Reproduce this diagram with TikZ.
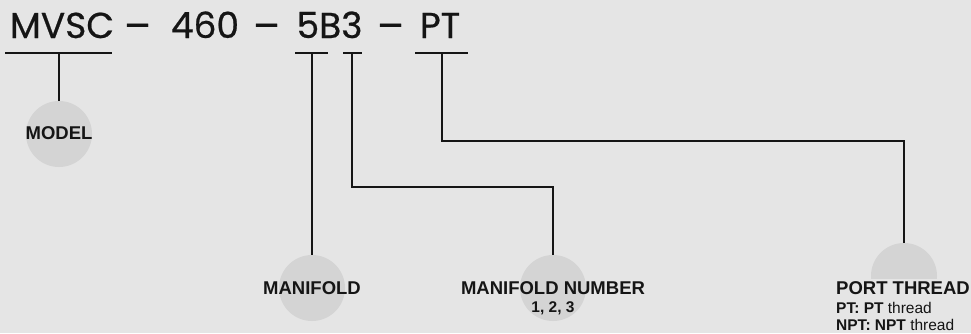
\documentclass[tikz,border=0pt]{standalone}
\usepackage{fontspec}
\setmainfont{Liberation Sans}
\newfontfamily\titlefont[FakeBold=0.6]{Poppins}
\definecolor{bg}{HTML}{E5E5E5}
\definecolor{disc}{HTML}{D4D4D4}
\definecolor{ink}{HTML}{151515}
\begin{document}
\begin{tikzpicture}[x=1pt,y=-1pt,
  title/.style={font=\titlefont\fontsize{36}{40}\selectfont, text=ink, inner sep=0pt, anchor=base},
  disc/.style={circle, fill=disc, minimum size=66pt, inner sep=0pt},
  lbl/.style={font=\bfseries\fontsize{18.5}{20}\selectfont, text=ink, inner sep=0pt},
  sub/.style={font=\fontsize{15.5}{17}\selectfont, text=ink, inner sep=0pt},
  link/.style={draw=ink, line width=2pt},
  bar/.style={draw=ink, line width=2.2pt}]
\fill[bg] (0,0) rectangle (971,333);
\useasboundingbox (0,0) rectangle (971,333);
% title
\node[title] (mvsc) at (62,38) {MVSC};
\node[title, font=\titlefont\fontsize{40}{44}\selectfont] (da) at (137.5,40) {–};
\node[title] (num) at (205,38) {460};
\node[title, font=\titlefont\fontsize{40}{44}\selectfont] (db) at (266.5,40) {–};
\node[title] (code) at (329.5,38) {5B3};
\node[title, font=\titlefont\fontsize{40}{44}\selectfont] (dc) at (390.5,40) {–};
\node[title] (pt) at (440,38) {PT};
% underline bars
\coordinate (u1a) at (5,53);   \coordinate (u1b) at (112,53);
\coordinate (u2a) at (295,53); \coordinate (u2b) at (328,53);
\coordinate (u3a) at (343,53); \coordinate (u3b) at (362,53);
\coordinate (u4a) at (415,53); \coordinate (u4b) at (468,53);
\draw[bar] (u1a) -- (u1b);
\draw[bar] (u2a) -- (u2b);
\draw[bar] (u3a) -- (u3b);
\draw[bar] (u4a) -- (u4b);
\coordinate (s1) at (59,53);
\coordinate (s2) at (312,53);
\coordinate (s3) at (352,53);
\coordinate (s4) at (442,53);
% discs
\node[disc] (model) at (59,134) {};
\node[disc] (manifold) at (312,288) {};
\node[disc] (mnum) at (553,288) {};
\node[disc] (port) at (904,276) {};
% connectors
\draw[link] (s1) -- (model.north);
\draw[link] (s2) -- (manifold.north);
\draw[link] (s3) |- (450,187) -| (mnum.north);
\draw[link] (s4) |- (700,141) -| (port.north);
% labels
\node[lbl] (tmodel) at (59,133) {MODEL};
\node[lbl] (tman) at (312,288) {MANIFOLD};
\node[lbl] (tmnum) at (553,288) {MANIFOLD NUMBER};
\node[sub, font=\bfseries\fontsize{15.5}{17}\selectfont] (tmnum2) at (553,308) {1, 2, 3};
\fill[bg] (833,279) rectangle (971,333);
\node[lbl, anchor=west] (tport) at (836,288) {PORT THREAD};
\node[sub, anchor=west] (tpt) at (836,308) {\textbf{PT:} \textbf{PT} thread};
\node[sub, anchor=west] (tnpt) at (836,325) {\textbf{NPT:} \textbf{NPT} thread};
\end{tikzpicture}
\end{document}
